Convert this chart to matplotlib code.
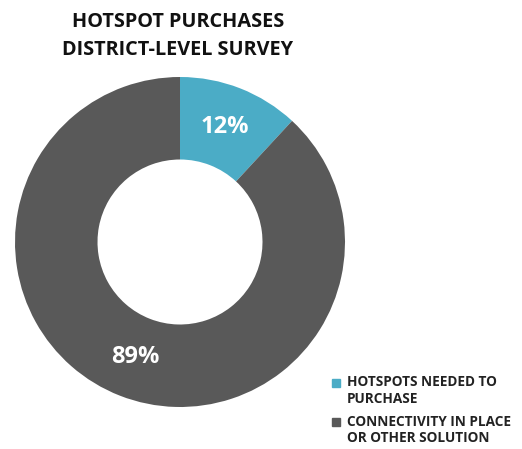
import numpy as np
import matplotlib.pyplot as plt
from matplotlib.patches import Rectangle

plt.rcParams['font.family'] = ['Open Sans', 'DejaVu Sans']

labels = ['HOTSPOTS NEEDED TO\nPURCHASE', 'CONNECTIVITY IN PLACE\nOR OTHER SOLUTION']
values = [12, 89]
pct_labels = ['12%', '89%']
colors = ['#4BACC6', '#595959']

W, H = 522, 449
fig = plt.figure(figsize=(W / 100, H / 100), dpi=100)

# donut: centre ~ (180, 242) px, outer radius ~165 px
ax = fig.add_axes([15 / W, (H - 407) / H, 330 / W, 330 / H])
wedges, _ = ax.pie(values, colors=colors, startangle=90, counterclock=False,
                   radius=1, wedgeprops=dict(width=0.5, linewidth=0))
for w, t in zip(wedges, pct_labels):
    ang = np.deg2rad((w.theta1 + w.theta2) / 2)
    ax.text(0.75 * np.cos(ang), 0.75 * np.sin(ang), t, ha='center', va='center',
            color='white', fontsize=17, fontweight='bold')
ax.set_xlim(-1, 1)
ax.set_ylim(-1, 1)
ax.set_aspect('equal')
ax.axis('off')

# title
fig.text(178 / W, 1 - 22 / H, 'HOTSPOT PURCHASES', ha='center', va='center',
         fontsize=14.3, fontweight='bold', color='#111111')
fig.text(178 / W, 1 - 50 / H, 'DISTRICT-LEVEL SURVEY', ha='center', va='center',
         fontsize=14.3, fontweight='bold', color='#111111')

# legend
for (y0, lab, c) in [(383, labels[0], colors[0]), (422, labels[1], colors[1])]:
    fig.patches.append(Rectangle((332 / W, 1 - (y0 + 4) / H), 8 / W, 8 / H,
                                 transform=fig.transFigure, color=c))
    fig.text(347 / W, 1 - (y0 - 7.5) / H, lab, ha='left', va='top', fontsize=9.8,
             fontweight='bold', color='#222222', linespacing=1.2)

fig.savefig('out.png', dpi=100)
